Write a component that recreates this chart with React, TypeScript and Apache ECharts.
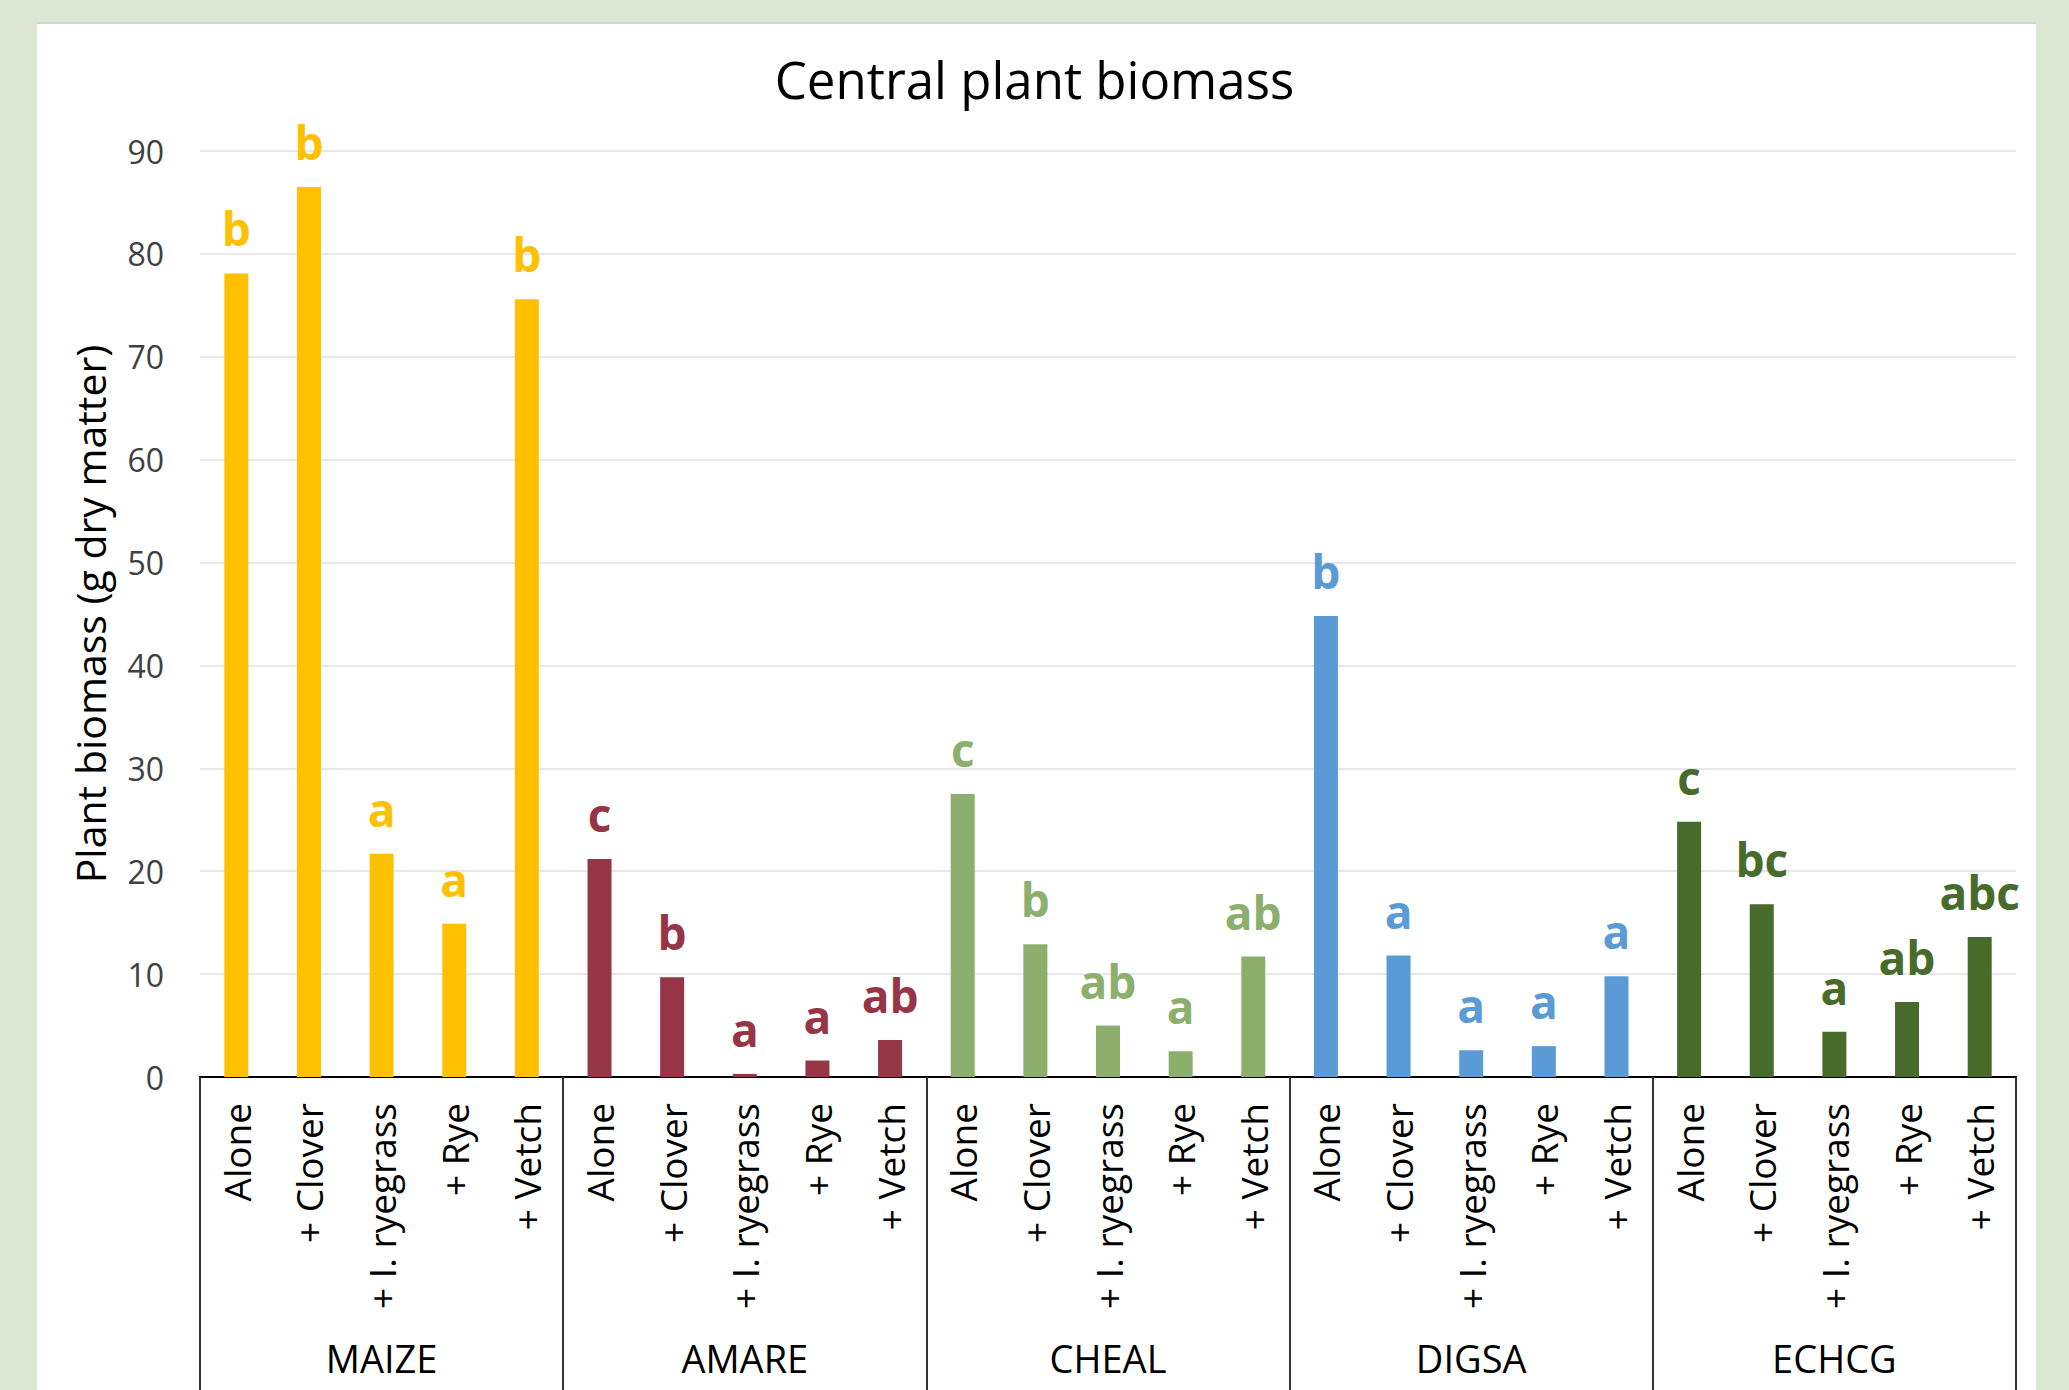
import React, { useEffect, useRef } from "react";
import * as echarts from "echarts";

const groups = ["MAIZE", "AMARE", "CHEAL", "DIGSA", "ECHCG"];
const treatments = ["Alone", "+ Clover", "+ I. ryegrass", "+ Rye", "+ Vetch"];
const maizeValues = [78.1, 86.5, 21.7, 14.9, 75.6];
const amareValues = [21.2, 9.7, 0.3, 1.6, 3.6];
const chealValues = [27.5, 12.9, 5.0, 2.5, 11.7];
const digsaValues = [44.8, 11.8, 2.6, 3.0, 9.8];
const echcgValues = [24.8, 16.8, 4.4, 7.3, 13.6];
const maizeLetters = ["b", "b", "a", "a", "b"];
const amareLetters = ["c", "b", "a", "a", "ab"];
const chealLetters = ["c", "b", "ab", "a", "ab"];
const digsaLetters = ["b", "a", "a", "a", "a"];
const echcgLetters = ["c", "bc", "a", "ab", "abc"];
const groupColors = ["#FFC000", "#953545", "#8CAF6E", "#5B9BD5", "#476B2B"];
const yTicks = [0, 90, 10];

const FONT = "'Open Sans', 'Noto Sans', sans-serif";

export default function App() {
  const ref = useRef<HTMLDivElement>(null);
  useEffect(() => {
    if (!ref.current) return;
    const chart = echarts.init(ref.current, null, { renderer: "svg" });
    const valueSets = [maizeValues, amareValues, chealValues, digsaValues, echcgValues];
    const letterSets = [maizeLetters, amareLetters, chealLetters, digsaLetters, echcgLetters];
    const categories: string[] = [];
    const data: any[] = [];
    const letters: string[] = [];
    groups.forEach((g, gi) => {
      treatments.forEach((t, ti) => {
        categories.push(t);
        letters.push(letterSets[gi][ti]);
        data.push({
          value: valueSets[gi][ti],
          itemStyle: { color: groupColors[gi] },
          label: { color: groupColors[gi] },
        });
      });
    });
    chart.setOption({
      animation: false,
      textStyle: { fontFamily: FONT },
      title: {
        text: "Central plant biomass",
        left: "center",
        top: 48,
        textStyle: { fontFamily: FONT, fontSize: 51, fontWeight: "normal", color: "#000" },
      },
      grid: { left: 200, right: 53, top: 151, bottom: 313, containLabel: false },
      xAxis: [
        {
          type: "category",
          data: categories,
          position: "bottom",
          axisLine: { show: true, lineStyle: { color: "#000", width: 2 } },
          axisTick: { show: false },
          axisLabel: {
            rotate: 90,
            interval: 0,
            margin: 26,
            fontSize: 37,
            color: "#000",
            fontFamily: FONT,
          },
        },
        {
          type: "category",
          data: groups,
          position: "bottom",
          axisLine: { show: true, lineStyle: { color: "#000", width: 2 } },
          axisTick: { show: true, length: 340, lineStyle: { color: "#333", width: 2 } },
          axisLabel: { interval: 0, margin: 262, fontSize: 38, color: "#000", fontFamily: FONT },
        },
      ],
      yAxis: {
        type: "value",
        min: yTicks[0],
        max: yTicks[1],
        interval: yTicks[2],
        name: "Plant biomass (g dry matter)",
        nameLocation: "middle",
        nameGap: 90,
        nameTextStyle: { fontSize: 41, color: "#000", fontFamily: FONT },
        axisLine: { show: false },
        axisTick: { show: false },
        axisLabel: { fontSize: 32, color: "#404040", margin: 36, fontFamily: FONT },
        splitLine: { lineStyle: { color: "#e8e8e8", width: 2 } },
      },
      series: [
        {
          type: "bar",
          xAxisIndex: 0,
          data,
          barWidth: 24,
          label: {
            show: true,
            position: "top",
            distance: 22,
            fontSize: 46,
            fontWeight: "bold",
            fontFamily: FONT,
            formatter: (p: any) => letters[p.dataIndex],
          },
        },
      ],
    });
    return () => chart.dispose();
  }, []);
  return (
    <div style={{ position: "fixed", left: 0, top: 0, width: 2069, height: 1390, background: "#DCE7D3", overflow: "hidden" }}>
      <div style={{ position: "absolute", left: 37, top: 22, width: 1999, height: 1400, background: "#fff", borderTop: "2px solid #d4d4d8" }} />
      <div ref={ref} style={{ position: "absolute", left: 0, top: 0, width: 2069, height: 1390 }} />
    </div>
  );
}
